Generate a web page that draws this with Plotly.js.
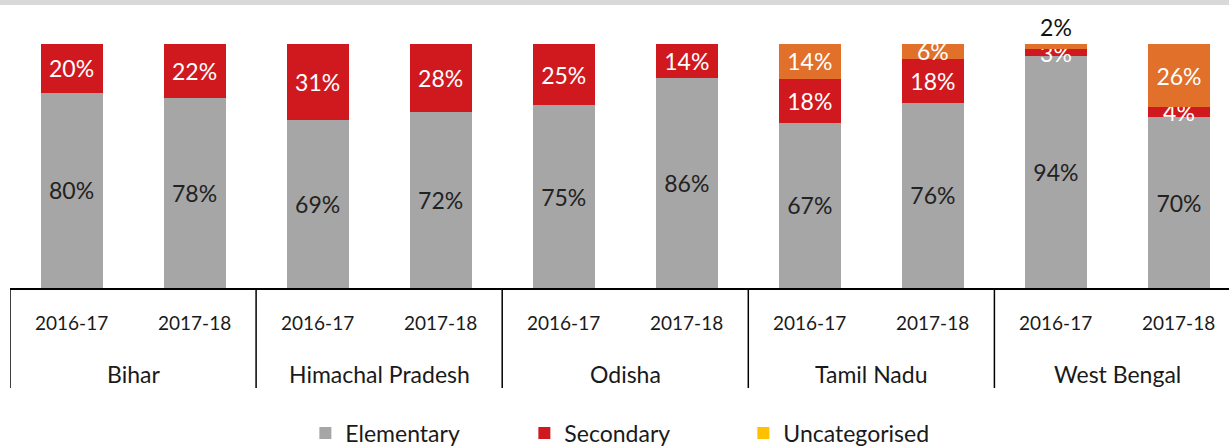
<!DOCTYPE html>
<html>
<head>
<meta charset="utf-8">
<script src="https://cdn.plot.ly/plotly-3.0.1.min.js"></script>
<style>html,body{margin:0;padding:0;background:#fff}#chart{width:1229px;height:446px}</style>
</head>
<body>
<div id="chart"></div>
<script>
const states = ["Bihar", "Himachal Pradesh", "Odisha", "Tamil Nadu", "West Bengal"];
const years = ["2016-17", "2017-18"];
// values per bar, ordered state by state, year by year
const elementary    = [80, 78, 69, 72, 75, 86, 67, 76, 94, 70];
const secondary     = [20, 22, 31, 28, 25, 14, 18, 18, 3, 4];
const uncategorised = [0, 0, 0, 0, 0, 0, 14, 6, 2, 26];

const FONT = "Lato, 'Open Sans', sans-serif";
const xs = [];
const ann = [];
states.forEach((s, si) => {
  years.forEach((yr, yi) => {
    const idx = si * years.length + yi;
    xs.push(idx);
    ann.push({x: idx, y: -0.1434, xref: 'x', yref: 'paper', text: yr, showarrow: false,
      yanchor: 'middle', font: {family: FONT, size: 19, color: '#1a1a1a'}});
  });
  ann.push({x: si * years.length + (years.length - 1) / 2, y: -0.3525, xref: 'x', yref: 'paper',
    text: s, showarrow: false, yanchor: 'middle', font: {family: FONT, size: 23, color: '#1a1a1a'}});
});

const lbl = v => v > 0 ? v + '%' : '';
const common = {type: 'bar', x: xs, textposition: 'inside', insidetextanchor: 'middle',
  textangle: 0, constraintext: 'none', cliponaxis: false, hoverinfo: 'skip'};

// first point has no uncategorised share, its colour only feeds the legend swatch
const uncColors = uncategorised.map((v, i) => i === 0 ? '#FFC000' : '#E0702A');
const uncPos = uncategorised.map((v, i) => (v > 0 && v < 4 && secondary[i] < 5) ? 'outside' : 'inside');

const traces = [
  Object.assign({}, common, {name: 'Elementary', y: elementary, text: elementary.map(lbl),
    marker: {color: '#A6A6A6'}, insidetextfont: {family: FONT, size: 23, color: '#222222'}}),
  Object.assign({}, common, {name: 'Secondary', y: secondary, text: secondary.map(lbl),
    marker: {color: '#D0191F'}, insidetextfont: {family: FONT, size: 23, color: '#ffffff'}}),
  Object.assign({}, common, {name: 'Uncategorised', y: uncategorised, text: uncategorised.map(lbl),
    textposition: uncPos, marker: {color: uncColors},
    insidetextfont: {family: FONT, size: 23, color: '#ffffff'},
    outsidetextfont: {family: FONT, size: 23, color: '#111111'}})
];

const shapes = [];
for (let k = 0; k <= states.length; k++) {
  const xb = k * years.length - 0.5;
  shapes.push({type: 'line', xref: 'x', yref: 'paper', x0: xb, x1: xb, y0: 0, y1: -0.41,
    line: {color: '#000', width: 1.5}});
}
shapes.push({type: 'rect', xref: 'paper', yref: 'paper', ysizemode: 'pixel', yanchor: 1,
  x0: -0.01, x1: 1.01, y0: 44, y1: 39, fillcolor: '#D9D9D9', line: {width: 0}, layer: 'below'});

const layout = {
  width: 1229, height: 446,
  margin: {l: 10, r: 0, t: 44, b: 158, autoexpand: false},
  barmode: 'stack', barnorm: 'percent', bargap: 0.496,
  paper_bgcolor: '#fff', plot_bgcolor: '#fff',
  xaxis: {range: [-0.5, 9.4065], showticklabels: false, showgrid: false, zeroline: false,
    showline: true, linecolor: '#000', linewidth: 1.5, ticks: '', fixedrange: true},
  yaxis: {range: [0, 100.02], visible: false, fixedrange: true},
  showlegend: true,
  legend: {orientation: 'h', x: 0.2423, xanchor: 'left', y: -0.594, yanchor: 'middle',
    entrywidth: 174, entrywidthmode: 'pixels', traceorder: 'normal',
    font: {family: FONT, size: 23, color: '#1a1a1a'}},
  annotations: ann, shapes: shapes
};

Plotly.newPlot('chart', traces, layout, {displayModeBar: false, staticPlot: true});
</script>
</body>
</html>
